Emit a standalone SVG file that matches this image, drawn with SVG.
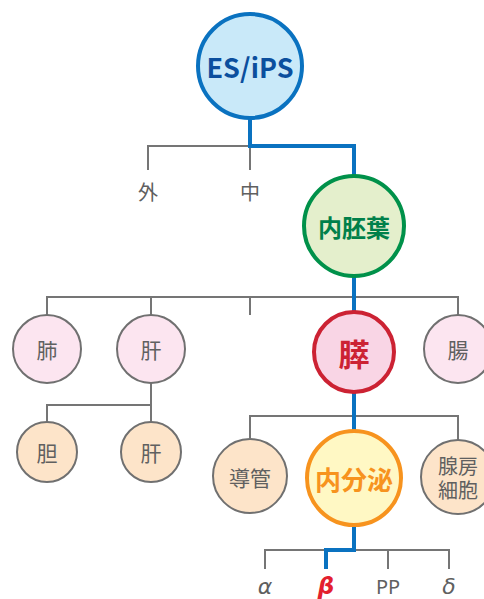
<svg xmlns="http://www.w3.org/2000/svg" width="484" height="599" viewBox="0 0 484 599">
<style>
.g{fill:none;stroke:#757575;stroke-width:2}
.b{fill:none;stroke:#0a72c0;stroke-width:4}
.n{stroke:#707070;stroke-width:2}
.t{font-family:"Noto Sans CJK JP","Noto Sans",sans-serif;fill:#606060;text-anchor:middle;dominant-baseline:central}
.big{font-weight:bold}
</style>
<rect width="484" height="599" fill="#fff"/>
<g id="connectors">
<path class="g" d="M148,170V146H250V170"/>
<path class="g" d="M47,315V297H458V315M151,297V315M250,297V315"/>
<path class="g" d="M151,383V405M47,423V405H151V423"/>
<path class="g" d="M250,438V416H458V441"/>
<path class="g" d="M265,569V550H449V569M388,550V569"/>
<path class="b" d="M250,118V146H354V176"/>
<path class="b" d="M354,276V312"/>
<path class="b" d="M354,392V431"/>
<path class="b" d="M354,526V550H326V569"/>
</g>
<g id="es"><circle cx="250" cy="66" r="52" fill="#c9e9f9" stroke="#0a72c0" stroke-width="4"/><text class="t big" x="250" y="66" font-size="27" style="fill:#0b4f9e">ES/iPS</text></g>
<g id="gai"><text class="t" x="148" y="191" font-size="20">外</text></g>
<g id="chu"><text class="t" x="250" y="191" font-size="20">中</text></g>
<g id="naihaiyo"><circle cx="354" cy="226" r="50" fill="#e4efcc" stroke="#00914a" stroke-width="4"/><text class="t big" x="354" y="226" font-size="24" style="fill:#00804a">内胚葉</text></g>
<g id="hai"><circle class="n" cx="47" cy="349" r="34" fill="#fce5f0"/><text class="t" x="47" y="349" font-size="21">肺</text></g>
<g id="kan1"><circle class="n" cx="151" cy="349" r="34" fill="#fce5f0"/><text class="t" x="151" y="349" font-size="21">肝</text></g>
<g id="sui"><circle cx="354" cy="352" r="40" fill="#f9d5e5" stroke="#cc2233" stroke-width="4"/><text class="t big" x="354" y="352" font-size="31" style="fill:#cc2233">膵</text></g>
<g id="cho"><circle class="n" cx="458" cy="349" r="34" fill="#fce5f0"/><text class="t" x="458" y="349" font-size="21">腸</text></g>
<g id="tan"><circle class="n" cx="47" cy="452" r="30" fill="#fde4c9"/><text class="t" x="47" y="452" font-size="21">胆</text></g>
<g id="kan2"><circle class="n" cx="151" cy="452" r="30" fill="#fde4c9"/><text class="t" x="151" y="452" font-size="21">肝</text></g>
<g id="dokan"><circle class="n" cx="250" cy="476" r="37" fill="#fde4c9"/><text class="t" x="250" y="477" font-size="21">導管</text></g>
<g id="naibunpi"><circle cx="354" cy="478" r="47" fill="#fff8c4" stroke="#f7931e" stroke-width="4"/><text class="t big" x="354" y="478" font-size="26" style="fill:#f7931e">内分泌</text></g>
<g id="senbo"><circle class="n" cx="458" cy="477" r="37" fill="#fde4c9"/><text class="t" x="458" y="465" font-size="20">腺房<tspan x="458" dy="24">細胞</tspan></text></g>
<g id="alpha"><text class="t" x="265" y="586" font-size="22" style="font-family:'DejaVu Sans',sans-serif;font-style:italic">α</text></g>
<g id="beta"><text class="t big" x="326" y="586" font-size="23" style="fill:#e3202e;font-family:'DejaVu Sans',sans-serif;font-style:italic">β</text></g>
<g id="pp"><text class="t" x="388" y="586" font-size="20" style="font-family:'Noto Sans',sans-serif">PP</text></g>
<g id="delta"><text class="t" x="449" y="586" font-size="22" style="font-family:'DejaVu Sans',sans-serif;font-style:italic">δ</text></g>
</svg>
